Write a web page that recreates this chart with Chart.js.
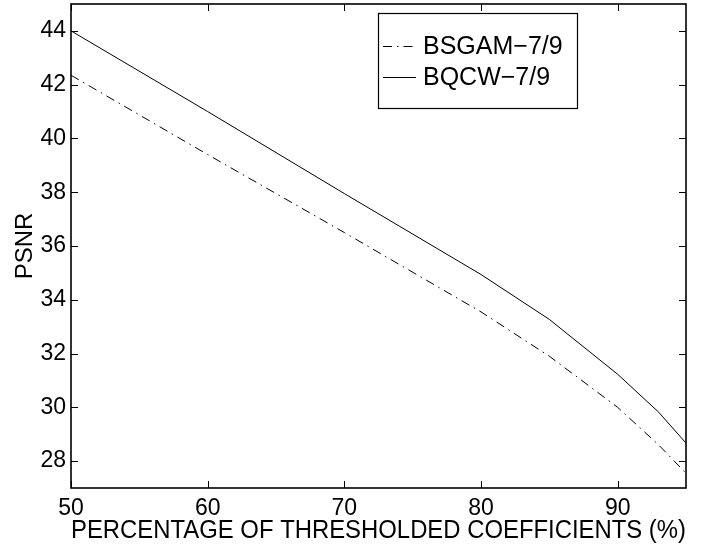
<!DOCTYPE html>
<html>
<head>
<meta charset="utf-8">
<script src="https://cdn.jsdelivr.net/npm/chart.js@4"></script>
<style>
  html, body { margin: 0; padding: 0; background: #fff; }
  #wrap { width: 716px; height: 545px; }
</style>
</head>
<body>
<div id="wrap"><canvas id="chart" width="716" height="545"></canvas></div>
<script>
// percentage of thresholded coefficients
const percents = [50, 60, 70, 80, 85, 90, 93, 95]
const bsgam = [42.35, 39.4, 36.5, 33.55, 31.9, 30.0, 28.6, 27.55]
const bqcw = [44.0, 41.0, 37.95, 34.94, 33.27, 31.23, 29.82, 28.67]

const xTicks = [50, 60, 70, 80, 90]
const yTicks = [28, 30, 32, 34, 36, 38, 40, 42, 44]

const FONT = "'Liberation Sans', Arial, sans-serif"

const toPoints = (ys) => percents.map((x, i) => ({ x: x, y: ys[i] }))

// box + inward ticks on all four sides, matlab style
const frame = {
  id: "frame",
  afterDraw(chart) {
    const { ctx, chartArea: a, scales } = chart
    ctx.save()
    ctx.strokeStyle = "#000"
    ctx.lineWidth = 1
    xTicks.forEach((v) => {
      const px = Math.round(scales.x.getPixelForValue(v)) + 0.5
      ctx.beginPath()
      ctx.moveTo(px, a.bottom); ctx.lineTo(px, a.bottom - 7)
      ctx.moveTo(px, a.top); ctx.lineTo(px, a.top + 7)
      ctx.stroke()
    })
    yTicks.forEach((v) => {
      const py = Math.round(scales.y.getPixelForValue(v)) + 0.5
      ctx.beginPath()
      ctx.moveTo(a.left, py); ctx.lineTo(a.left + 7, py)
      ctx.moveTo(a.right, py); ctx.lineTo(a.right - 7, py)
      ctx.stroke()
    })
    ctx.lineWidth = 1.6
    ctx.strokeRect(a.left, a.top, a.right - a.left, a.bottom - a.top)
    ctx.restore()
  },
}

// legend box in the upper middle
const legendBox = {
  id: "legendBox",
  afterDraw(chart) {
    const { ctx } = chart
    const left = 378, top = 13, w = 199, h = 95
    ctx.save()
    ctx.fillStyle = "#fff"
    ctx.fillRect(left, top, w, h)
    ctx.strokeStyle = "#000"
    ctx.lineWidth = 1.2
    ctx.strokeRect(left + 0.5, top + 0.5, w, h)
    ctx.font = "25px " + FONT
    ctx.textBaseline = "middle"
    ctx.fillStyle = "#000"
    chart.data.datasets.forEach((ds, i) => {
      const y = 46 + i * 31 + 0.5
      ctx.beginPath()
      ctx.lineWidth = 1
      ctx.setLineDash(ds.borderDash || [])
      ctx.moveTo(383, y); ctx.lineTo(416, y)
      ctx.stroke()
      ctx.setLineDash([])
      ctx.fillText(ds.label, 423, y + 1)
    })
    ctx.restore()
  },
}

const noPad = (s) => {
  s.paddingTop = 0
  s.paddingBottom = 0
  s.paddingLeft = 0
  s.paddingRight = 0
}

new Chart(document.getElementById("chart"), {
  type: "line",
  data: {
    datasets: [
      {
        label: "BSGAM\u22127/9",
        data: toPoints(bsgam),
        borderColor: "#000",
        borderWidth: 1,
        borderDash: [9, 5, 1.5, 5],
        pointRadius: 0,
        tension: 0,
        fill: false,
      },
      {
        label: "BQCW\u22127/9",
        data: toPoints(bqcw),
        borderColor: "#000",
        borderWidth: 1,
        pointRadius: 0,
        tension: 0,
        fill: false,
      },
    ],
  },
  options: {
    responsive: false,
    animation: false,
    layout: { padding: { left: 0, top: 4, right: 30, bottom: 0 } },
    plugins: { legend: { display: false }, tooltip: { enabled: false } },
    scales: {
      x: {
        type: "linear",
        min: 50,
        max: 95,
        afterBuildTicks: (s) => { s.ticks = xTicks.map((v) => ({ value: v })) },
        afterFit: (s) => { s.height = 57; noPad(s) },
        grid: { display: false, drawTicks: false },
        border: { display: false },
        ticks: { color: "#000", font: { family: FONT, size: 23 }, padding: 7, maxRotation: 0 },
        title: {
          display: true,
          text: "PERCENTAGE OF THRESHOLDED COEFFICIENTS (%)",
          color: "#000",
          font: { family: FONT, size: 26, lineHeight: 1 },
          padding: { top: 0, bottom: 1 },
        },
      },
      y: {
        min: 27,
        max: 45,
        afterBuildTicks: (s) => { s.ticks = yTicks.map((v) => ({ value: v })) },
        afterFit: (s) => { s.width = 71; noPad(s) },
        grid: { display: false, drawTicks: false },
        border: { display: false },
        ticks: { color: "#000", font: { family: FONT, size: 23 }, padding: 5 },
        title: {
          display: true,
          text: "PSNR",
          color: "#000",
          font: { family: FONT, size: 24 },
          padding: { top: 11, bottom: 0 },
        },
      },
    },
  },
  plugins: [frame, legendBox],
})
</script>
</body>
</html>
